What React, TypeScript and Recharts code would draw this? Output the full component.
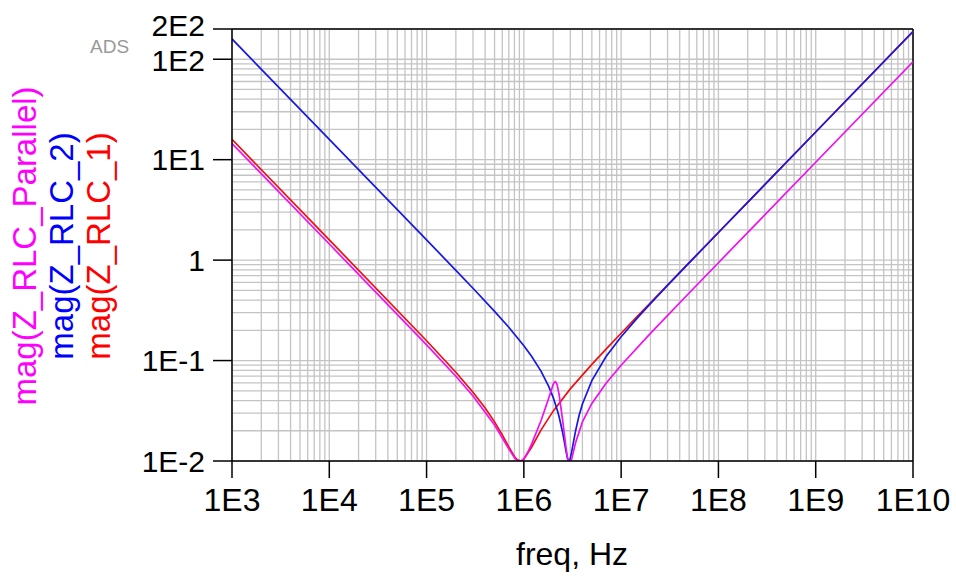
import React from 'react';
import { LineChart, Line, XAxis, YAxis, CartesianGrid, ReferenceLine } from 'recharts';

// axis ticks
const X_TICKS = [1e3, 1e4, 1e5, 1e6, 1e7, 1e8, 1e9, 1e10];
const X_TICK_LABELS = ['1E3', '1E4', '1E5', '1E6', '1E7', '1E8', '1E9', '1E10'];
const Y_TICKS = [0.01, 0.1, 1, 10, 100, 200];
const Y_TICK_LABELS = ['1E-2', '1E-1', '1', '1E1', '1E2', '2E2'];

// mag(Z_RLC_1)
const rlc1Freq = [1e3, 1e4, 1e5, 2e5, 3e5, 4e5, 5e5, 6e5, 7e5, 8e5, 8.5e5, 9.19e5, 9.5e5, 1e6, 1.2e6, 1.5e6, 2e6, 3e6, 5e6, 7e6, 1e7, 1.5e7, 2e7, 3e7, 5e7, 1e8, 1e9, 1e10];
const rlc1Mag = [15.92, 1.5915, 0.1576, 0.07647, 0.04844, 0.03377, 0.02454, 0.01821, 0.01382, 0.0111, 0.01036, 0.01, 0.01007, 0.01042, 0.0137, 0.0203, 0.03138, 0.05222, 0.09162, 0.13006, 0.18718, 0.28187, 0.37633, 0.56506, 0.94223, 1.8848, 18.85, 188.5];

// mag(Z_RLC_2)
const rlc2Freq = [1e3, 1e4, 1e5, 2e5, 3e5, 5e5, 7e5, 1e6, 1.2e6, 1.5e6, 1.8e6, 2e6, 2.2e6, 2.3e6, 2.5e6, 2.6e6, 2.7e6, 2.8e6, 2.85e6, 2.906e6, 2.95e6, 3e6, 3.1e6, 3.2e6, 3.4e6, 3.7e6, 4e6, 5e6, 7e6, 1e7, 1.5e7, 2e7, 3e7, 5e7, 1e8, 1e9, 1e10];
const rlc2Mag = [159.16, 15.915, 1.5897, 0.79207, 0.525, 0.30905, 0.2144, 0.14066, 0.11046, 0.07847, 0.0554, 0.04305, 0.03245, 0.02771, 0.01933, 0.01578, 0.01284, 0.01079, 0.01022, 0.01, 0.01014, 0.01059, 0.01226, 0.01456, 0.01997, 0.02854, 0.03699, 0.06322, 0.10967, 0.17288, 0.27232, 0.36918, 0.56028, 0.93937, 1.8834, 18.85, 188.5];

// mag(Z_RLC_Parallel)
const parFreq = [1e3, 1e4, 1e5, 2e5, 3e5, 5e5, 7e5, 8e5, 8.5e5, 9e5, 9.5e5, 1e6, 1.1e6, 1.2e6, 1.5e6, 1.8e6, 2e6, 2.05e6, 2.1e6, 2.155e6, 2.2e6, 2.3e6, 2.5e6, 2.7e6, 2.8e6, 2.906e6, 3e6, 3.1e6, 3.4e6, 4e6, 5e6, 7e6, 1e7, 2e7, 5e7, 1e8, 1e9, 1e10];
const parMag = [14.469, 1.4467, 0.14341, 0.06978, 0.04441, 0.02285, 0.01319, 0.01077, 0.010134, 0.009945, 0.01008, 0.010558, 0.012293, 0.014747, 0.025125, 0.042077, 0.05775, 0.060532, 0.061625, 0.06023, 0.057073, 0.04626, 0.025826, 0.014088, 0.010947, 0.009455, 0.009487, 0.01045, 0.01518, 0.024498, 0.037422, 0.0595, 0.08988, 0.18636, 0.47042, 0.94206, 9.4247, 94.248];

const zip = (f: number[], v: number[]) => f.map((x, i) => ({ f: x, v: v[i] }));

// log grid: 1..9 in each decade
const logGrid = (fromExp: number, toExp: number) => {
  const out: number[] = [];
  for (let e = fromExp; e < toExp; e++) {
    for (let k = 1; k <= 9; k++) out.push(k * Math.pow(10, e));
  }
  return out;
};
const vGrid = [...logGrid(3, 10), 1e10];
const hGrid = [...logGrid(-2, 2), 100, 200];

const FONT = '"Liberation Sans", Arial, sans-serif';
const tickStyle = { fill: '#000', fontSize: 32, fontFamily: FONT };

// 2E2 and 1E2 sit very close; nudge them apart a little
const YTick = (props: any) => {
  const { x, y, payload } = props;
  const idx = Y_TICKS.indexOf(payload.value);
  const shift = payload.value === 200 ? -4 : payload.value === 100 ? 1 : 0;
  return (
    <text x={x} y={y + shift} dy="0.355em" textAnchor="end" fill="#000" fontSize={30} fontFamily={FONT}>
      {Y_TICK_LABELS[idx]}
    </text>
  );
};

export default function App() {
  return (
    <div style={{ position: 'absolute', left: 0, top: 0, width: 956, height: 576, background: '#fff' }}>
      <LineChart width={956} height={576} margin={{ top: 29, right: 43, bottom: 55, left: 132 }}>
        <CartesianGrid stroke="#c4c4c4" strokeWidth={1.3} verticalValues={vGrid} horizontalValues={hGrid} />
        <XAxis
          dataKey="f"
          type="number"
          scale="log"
          domain={[1e3, 1e10]}
          allowDataOverflow
          ticks={X_TICKS}
          interval={0}
          tickFormatter={(v: number) => X_TICK_LABELS[X_TICKS.indexOf(v)]}
          tickSize={17}
          tickMargin={10}
          height={60}
          tick={tickStyle}
          stroke="#000"
          axisLine={{ stroke: '#000', strokeWidth: 1.5 }}
          tickLine={{ stroke: '#000', strokeWidth: 1.5 }}
        />
        <YAxis
          dataKey="v"
          type="number"
          scale="log"
          domain={[0.01, 200]}
          allowDataOverflow
          ticks={Y_TICKS}
          interval={0}
          tickSize={19}
          tickMargin={8}
          width={100}
          tick={<YTick />}
          stroke="#000"
          axisLine={{ stroke: '#000', strokeWidth: 1.5 }}
          tickLine={{ stroke: '#000', strokeWidth: 1.5 }}
        />
        <ReferenceLine y={200} stroke="#333" strokeWidth={2} />
        <ReferenceLine x={1e10} stroke="#000" strokeWidth={1.5} />
        <Line data={zip(rlc1Freq, rlc1Mag)} dataKey="v" stroke="#f01010" strokeWidth={1.7} dot={false} isAnimationActive={false} />
        <Line data={zip(rlc2Freq, rlc2Mag)} dataKey="v" stroke="#1818e0" strokeWidth={1.7} dot={false} isAnimationActive={false} />
        <Line data={zip(parFreq, parMag)} dataKey="v" stroke="#f010f0" strokeWidth={1.7} dot={false} isAnimationActive={false} />
      </LineChart>
      <svg width={956} height={576} style={{ position: 'absolute', left: 0, top: 0, pointerEvents: 'none' }} fontFamily={FONT}>
        <text x={90} y={53} fontSize={19} fill="#999">ADS</text>
        <text x={572} y={565} fontSize={32} textAnchor="middle" fill="#000">freq, Hz</text>
        <text transform="translate(36,246) rotate(-90)" fontSize={33} textAnchor="middle" fill="#ff00ff">mag(Z_RLC_Parallel)</text>
        <text transform="translate(73,246) rotate(-90)" fontSize={33} textAnchor="middle" fill="#0000ff">mag(Z_RLC_2)</text>
        <text transform="translate(110,246) rotate(-90)" fontSize={33} textAnchor="middle" fill="#ff0000">mag(Z_RLC_1)</text>
      </svg>
    </div>
  );
}
